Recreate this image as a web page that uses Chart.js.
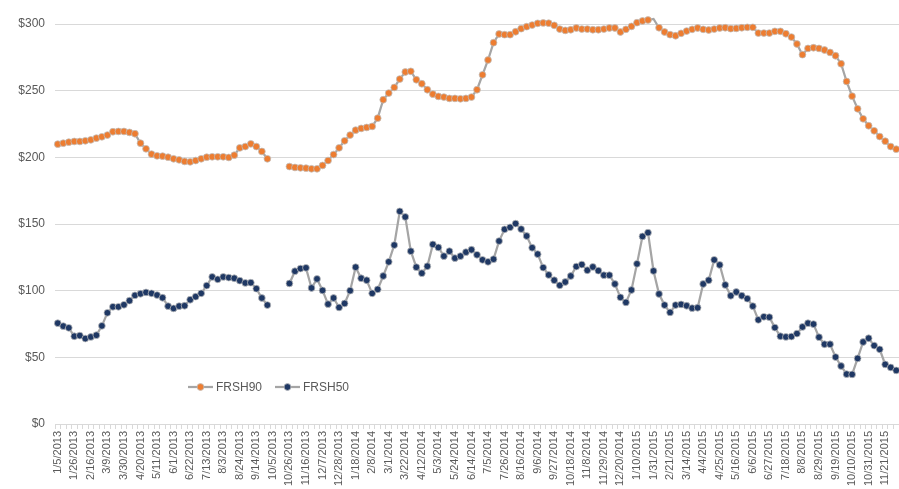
<!DOCTYPE html>
<html>
<head>
<meta charset="utf-8">
<script src="https://cdn.jsdelivr.net/npm/chart.js@4.4.1/dist/chart.umd.min.js"></script>
<style>
  html, body { margin: 0; padding: 0; background: #fff; }
  #wrap { position: relative; width: 899px; height: 489px; }
</style>
</head>
<body>
<div id="wrap"><canvas id="chart" width="899" height="489"></canvas></div>
<script>
// weekly dates, 1/5/2013 .. 12/5/2015
const weeks2013 = ["1/5/2013","1/12/2013","1/19/2013","1/26/2013","2/2/2013","2/9/2013","2/16/2013","2/23/2013","3/2/2013","3/9/2013","3/16/2013","3/23/2013","3/30/2013","4/6/2013","4/13/2013","4/20/2013","4/27/2013","5/4/2013","5/11/2013","5/18/2013","5/25/2013","6/1/2013","6/8/2013","6/15/2013","6/22/2013","6/29/2013","7/6/2013","7/13/2013","7/20/2013","7/27/2013","8/3/2013","8/10/2013","8/17/2013","8/24/2013","8/31/2013","9/7/2013","9/14/2013","9/21/2013","9/28/2013","10/5/2013","10/12/2013","10/19/2013","10/26/2013","11/2/2013","11/9/2013","11/16/2013","11/23/2013","11/30/2013","12/7/2013","12/14/2013","12/21/2013","12/28/2013"];
const weeks2014 = ["1/4/2014","1/11/2014","1/18/2014","1/25/2014","2/1/2014","2/8/2014","2/15/2014","2/22/2014","3/1/2014","3/8/2014","3/15/2014","3/22/2014","3/29/2014","4/5/2014","4/12/2014","4/19/2014","4/26/2014","5/3/2014","5/10/2014","5/17/2014","5/24/2014","5/31/2014","6/7/2014","6/14/2014","6/21/2014","6/28/2014","7/5/2014","7/12/2014","7/19/2014","7/26/2014","8/2/2014","8/9/2014","8/16/2014","8/23/2014","8/30/2014","9/6/2014","9/13/2014","9/20/2014","9/27/2014","10/4/2014","10/11/2014","10/18/2014","10/25/2014","11/1/2014","11/8/2014","11/15/2014","11/22/2014","11/29/2014","12/6/2014","12/13/2014","12/20/2014","12/27/2014"];
const weeks2015 = ["1/3/2015","1/10/2015","1/17/2015","1/24/2015","1/31/2015","2/7/2015","2/14/2015","2/21/2015","2/28/2015","3/7/2015","3/14/2015","3/21/2015","3/28/2015","4/4/2015","4/11/2015","4/18/2015","4/25/2015","5/2/2015","5/9/2015","5/16/2015","5/23/2015","5/30/2015","6/6/2015","6/13/2015","6/20/2015","6/27/2015","7/4/2015","7/11/2015","7/18/2015","7/25/2015","8/1/2015","8/8/2015","8/15/2015","8/22/2015","8/29/2015","9/5/2015","9/12/2015","9/19/2015","9/26/2015","10/3/2015","10/10/2015","10/17/2015","10/24/2015","10/31/2015","11/7/2015","11/14/2015","11/21/2015","11/28/2015","12/5/2015"];
const categories = [...weeks2013, ...weeks2014, ...weeks2015];

const frsh90 = [
  209.9,210.6,211.4,211.9,211.9,212.4,213.1,214.4,215.4,216.7,219.2,219.4,219.4,218.7,217.7,210.6,206.4,202.4,201.1,200.9,
  200.1,198.9,198.1,196.9,196.6,197.6,198.9,200.1,200.4,200.4,200.4,199.9,201.6,207.1,208.1,210.1,208.1,204.4,198.9,null,
  null,null,193.1,192.4,192.1,191.9,191.4,191.4,193.9,197.6,202.1,207.1,212.4,216.7,220.4,221.7,222.4,223.2,229.4,243.2,
  248.2,252.4,258.7,264.0,264.5,258.2,255.2,250.7,247.4,245.7,245.2,244.2,244.2,243.9,244.2,245.2,250.7,261.9,273.0,286.0,
  292.5,292.0,292.0,294.2,296.5,298.0,299.2,300.5,300.8,300.6,299.0,296.2,295.2,295.7,297.0,296.2,296.2,295.7,295.7,296.2,
  297.0,297.0,294.0,296.0,298.2,301.0,302.3,303.0,303.8,297.2,294.0,292.0,291.2,293.0,294.7,296.0,297.0,296.0,295.5,296.2,
  297.0,297.2,296.5,296.7,297.2,297.5,297.5,293.2,293.2,293.2,294.5,294.5,292.7,290.2,285.0,277.0,281.7,282.2,281.7,280.5,
  278.7,276.2,270.2,256.9,245.9,236.4,228.9,223.7,219.9,215.6,212.1,208.1,206.1
];

const frsh50 = [
  75.6,73.4,72.1,65.8,66.3,64.1,65.3,66.6,73.6,83.4,87.9,87.9,89.4,92.5,96.5,97.7,98.7,98.0,96.7,94.7,
  88.4,86.7,88.4,88.7,93.2,95.5,98.0,103.8,110.3,108.5,110.3,109.8,109.3,107.5,105.8,106.0,101.5,94.5,89.2,null,
  null,null,105.4,114.6,116.6,117.1,102.0,108.8,100.2,89.9,94.5,87.4,90.4,100.0,117.6,109.3,107.8,98.0,101.0,111.0,
  121.6,134.2,159.5,155.3,129.6,117.6,113.1,118.3,134.7,132.4,125.9,129.6,124.4,125.9,128.9,130.7,126.9,123.1,121.6,123.6,
  137.2,146.0,147.5,150.3,146.2,141.0,132.2,127.4,117.3,111.8,107.8,104.0,106.5,111.0,118.1,119.6,115.3,117.8,115.0,111.6,
  111.6,105.0,95.0,91.2,100.5,120.1,140.7,143.5,114.8,97.5,89.2,83.7,89.2,89.7,88.7,86.9,87.2,105.0,107.8,123.1,
  119.3,104.3,96.2,99.0,96.2,94.0,88.4,78.1,80.4,80.1,72.3,65.8,65.3,65.6,67.8,72.8,75.6,74.9,65.1,59.8,
  59.8,50.2,43.5,37.4,37.2,49.2,61.5,64.3,58.8,56.0,44.7,42.4,40.2
];

const seriesNames = ["FRSH90", "FRSH50"];
const markerColors = ["#ED7D31", "#1F3864"];
const yTicks = [0, 50, 100, 150, 200, 250, 300];
const LABEL_EVERY = 3;

const TEXT = "#595959";
const GRID = "#D9D9D9";
const LINE = "#A5A5A5";

// legend drawn inside the plot, lower left (like the Excel original)
const insideLegend = {
  id: "insideLegend",
  afterDraw(chart) {
    const ctx = chart.ctx;
    const y = 387;
    const items = [{ x: 188, i: 0 }, { x: 275, i: 1 }];
    ctx.save();
    ctx.font = "12px 'Liberation Sans', Arial, sans-serif";
    ctx.textBaseline = "middle";
    items.forEach(it => {
      ctx.strokeStyle = LINE;
      ctx.lineWidth = 2.25;
      ctx.beginPath();
      ctx.moveTo(it.x, y);
      ctx.lineTo(it.x + 25, y);
      ctx.stroke();
      ctx.beginPath();
      ctx.arc(it.x + 12.5, y, 3.4, 0, Math.PI * 2);
      ctx.fillStyle = markerColors[it.i];
      ctx.fill();
      ctx.lineWidth = 0.75;
      ctx.strokeStyle = "#BFBFBF";
      ctx.stroke();
      ctx.fillStyle = TEXT;
      ctx.fillText(seriesNames[it.i], it.x + 28, y + 0.5);
    });
    ctx.restore();
  }
};

function makeDataset(name, data, color) {
  return {
    label: name,
    data: data,
    clip: false,
    borderColor: LINE,
    borderWidth: 2.25,
    pointRadius: 3.4,
    pointHoverRadius: 3.4,
    pointBackgroundColor: color,
    pointBorderColor: "#BFBFBF",
    pointBorderWidth: 0.75,
    tension: 0,
    spanGaps: false,
    fill: false
  };
}

new Chart(document.getElementById("chart").getContext("2d"), {
  type: "line",
  data: {
    labels: categories,
    datasets: [
      makeDataset(seriesNames[0], frsh90, markerColors[0]),
      makeDataset(seriesNames[1], frsh50, markerColors[1])
    ]
  },
  options: {
    responsive: false,
    animation: false,
    layout: { autoPadding: false, padding: { top: 24, right: 0, bottom: 0, left: 0 } },
    plugins: { legend: { display: false }, tooltip: { enabled: false } },
    scales: {
      x: {
        type: "category",
        offset: true,
        afterFit: s => { s.height = 65; s.paddingLeft = 0; s.paddingRight = 0; },
        grid: { drawOnChartArea: false, drawTicks: true, tickLength: 5, color: GRID, offset: true },
        border: { display: true, color: GRID, width: 1 },
        ticks: {
          autoSkip: false,
          maxRotation: 90,
          minRotation: 90,
          padding: 2,
          color: TEXT,
          font: { family: "'Liberation Sans', Arial, sans-serif", size: 11 },
          callback: function (v, i) { return i % LABEL_EVERY === 0 ? this.getLabelForValue(v) : ""; }
        }
      },
      y: {
        min: 0,
        max: 300,
        afterFit: s => { s.width = 55; },
        afterBuildTicks: s => { s.ticks = yTicks.map(v => ({ value: v })); },
        grid: { color: GRID, lineWidth: 1, drawTicks: false },
        border: { display: false },
        ticks: {
          padding: 10,
          color: TEXT,
          font: { family: "'Liberation Sans', Arial, sans-serif", size: 12 },
          callback: v => "$" + v
        }
      }
    }
  },
  plugins: [insideLegend]
});
</script>
</body>
</html>
